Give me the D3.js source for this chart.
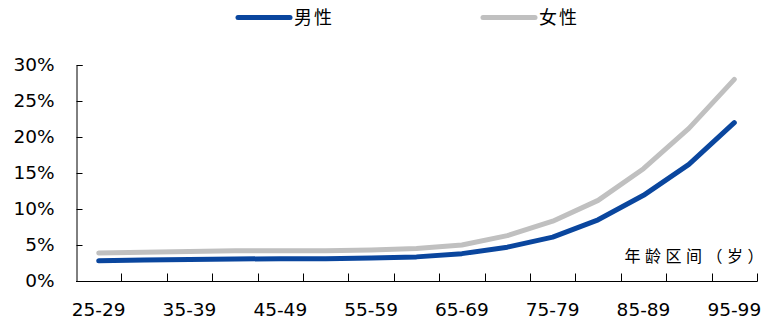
<!DOCTYPE html>
<html>
<head>
<meta charset="utf-8">
<script src="https://cdn.jsdelivr.net/npm/d3@7/dist/d3.min.js"></script>
<style>
  html, body { margin: 0; padding: 0; background: #fff; }
  svg { display: block; }
</style>
</head>
<body>
<svg id="chart" width="767" height="320"></svg>
<script>
// Age groups (5-year bands)
const ageGroups = ["25-29","30-34","35-39","40-44","45-49","50-54","55-59","60-64",
                   "65-69","70-74","75-79","80-84","85-89","90-94","95-99"];
// Rates (%) by age group
const maleValues   = [2.8, 2.9, 3.0, 3.05, 3.1, 3.1, 3.2, 3.35, 3.8, 4.7, 6.1, 8.5, 11.9, 16.2, 22.0];
const femaleValues = [3.9, 4.0, 4.1, 4.2, 4.2, 4.2, 4.3, 4.5, 5.0, 6.3, 8.3, 11.2, 15.6, 21.2, 28.0];
const yTicks = [0, 5, 10, 15, 20, 25, 30];
const xLabelEvery = 2;
const seriesNames = ["男性", "女性"];
const axisTitle = "年龄区间（岁）";

const colors = { male: "#0A469E", female: "#C0C0C0" };
const latinFont = "'DejaVu Sans', Verdana, sans-serif";
const cjkFont = "'Noto Sans CJK SC', sans-serif";

const svg = d3.select("#chart");
const margin = { left: 76, right: 10, top: 65, bottom: 39 };
const W = 767, H = 320;

const x = d3.scaleBand().domain(ageGroups).range([margin.left, W - margin.right]).padding(0);
const y = d3.scaleLinear().domain([0, 30]).range([H - margin.bottom, margin.top]);

// Y axis: ticks point inward
const yAxis = d3.axisLeft(y).tickValues(yTicks).tickSize(-6).tickPadding(22)
  .tickFormat(d => d + "%");
const gy = svg.append("g").attr("transform", `translate(${margin.left + 0.5},0)`).call(yAxis);
gy.select(".domain").attr("stroke", "#000");
gy.selectAll(".tick line").attr("stroke", "#000");
gy.selectAll("text").attr("font-family", latinFont).attr("font-size", 18.5).attr("fill", "#000");

// X axis: tick marks at band boundaries, labels on every other band
const xAxisG = svg.append("g").attr("transform", `translate(0,${y(0) + 0.5})`);
xAxisG.append("line")
  .attr("x1", margin.left).attr("x2", W - margin.right + 0.5)
  .attr("stroke", "#000");
const bounds = ageGroups.map(d => x(d) + x.bandwidth()).map(v => Math.round(v) + 0.5);
xAxisG.selectAll(".btick").data(bounds).join("line")
  .attr("class", "btick")
  .attr("x1", d => d).attr("x2", d => d)
  .attr("y1", 0).attr("y2", -8)
  .attr("stroke", "#000");
xAxisG.selectAll(".xlabel").data(ageGroups.filter((d, i) => i % xLabelEvery === 0)).join("text")
  .attr("class", "xlabel")
  .attr("x", d => x(d) + x.bandwidth() / 2)
  .attr("y", 34)
  .attr("text-anchor", "middle")
  .attr("font-family", latinFont).attr("font-size", 18.5).attr("fill", "#000")
  .text(d => d);

// Series lines
const line = d3.line()
  .x((d, i) => x(ageGroups[i]) + x.bandwidth() / 2)
  .y(d => y(d))
  .curve(d3.curveLinear);

svg.append("path").datum(femaleValues)
  .attr("d", line).attr("fill", "none")
  .attr("stroke", colors.female).attr("stroke-width", 5)
  .attr("stroke-linecap", "round").attr("stroke-linejoin", "round");
svg.append("path").datum(maleValues)
  .attr("d", line).attr("fill", "none")
  .attr("stroke", colors.male).attr("stroke-width", 5)
  .attr("stroke-linecap", "round").attr("stroke-linejoin", "round");

// Axis title
svg.append("text")
  .attr("x", 768).attr("y", 262)
  .attr("text-anchor", "end")
  .attr("font-family", cjkFont).attr("font-size", 16)
  .attr("letter-spacing", 4.5)
  .attr("fill", "#000")
  .text(axisTitle);

// Legend
const legendItems = [
  { name: seriesNames[0], color: colors.male, x0: 238 },
  { name: seriesNames[1], color: colors.female, x0: 483 }
];
const lg = svg.append("g");
legendItems.forEach(item => {
  lg.append("line")
    .attr("x1", item.x0).attr("x2", item.x0 + 52)
    .attr("y1", 17.5).attr("y2", 17.5)
    .attr("stroke", item.color).attr("stroke-width", 5)
    .attr("stroke-linecap", "round");
  lg.append("text")
    .attr("x", item.x0 + 56).attr("y", 24)
    .attr("font-family", cjkFont).attr("font-size", 18)
    .attr("letter-spacing", 2)
    .attr("fill", "#000")
    .text(item.name);
});
</script>
</body>
</html>
